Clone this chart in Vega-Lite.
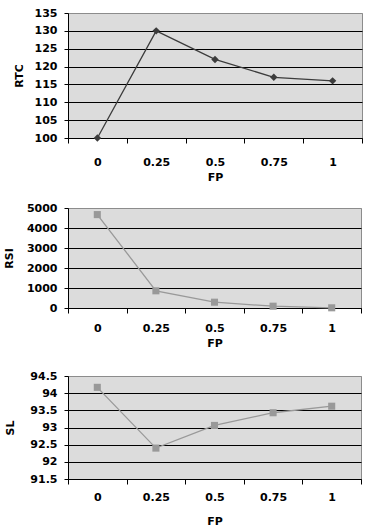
{
  "$schema": "https://vega.github.io/schema/vega-lite/v6.json",
  "padding": {"left": 2, "top": 6, "right": 7, "bottom": 2},
  "background": "white",
  "data": {"values": [
    {"FP": "0", "RTC": 100, "RSI": 4670, "SL": 94.17},
    {"FP": "0.25", "RTC": 130, "RSI": 860, "SL": 92.4},
    {"FP": "0.5", "RTC": 122, "RSI": 290, "SL": 93.06},
    {"FP": "0.75", "RTC": 117, "RSI": 90, "SL": 93.43},
    {"FP": "1", "RTC": 116, "RSI": 10, "SL": 93.62}
  ]},
  "config": {
    "font": "DejaVu Sans",
    "view": {"fill": "#dcdcdc", "stroke": "#8c8c8c", "strokeWidth": 1},
    "axis": {
      "labelFont": "DejaVu Sans", "labelFontWeight": "bold", "labelFontSize": 11, "labelColor": "black",
      "titleFont": "DejaVu Sans", "titleFontWeight": "bold", "titleFontSize": 11, "titleColor": "black",
      "domainColor": "black", "tickColor": "black", "gridOpacity": 1, "gridWidth": 1
    },
    "concat": {"spacing": 18}
  },
  "vconcat": [
    {
      "width": 294, "height": 125,
      "encoding": {
        "x": {"field": "FP", "type": "ordinal", "sort": null, "bandPosition": 0.5,
          "scale": {"type": "band", "paddingInner": 0, "paddingOuter": 0},
          "axis": {"labelAngle": 0, "tickBand": "extent", "grid": false, "tickSize": 5, "labelPadding": 13, "title": "FP", "titlePadding": 4}},
        "y": {"field": "RTC", "type": "quantitative",
          "scale": {"domain": [100, 135], "nice": false, "zero": false},
          "axis": {"values": [100, 105, 110, 115, 120, 125, 130, 135], "format": "d", "grid": true,
            "gridColor": {"condition": {"test": "datum.index === 1", "value": "#8c8c8c"}, "value": "black"},
            "tickSize": 4, "labelPadding": 7, "title": "RTC", "titlePadding": 10}}
      },
      "layer": [
        {"mark": {"type": "line", "color": "#3c3c3c", "strokeWidth": 1.3}},
        {"mark": {"type": "point", "shape": "diamond", "filled": true, "color": "#3c3c3c", "size": 55, "opacity": 1}}
      ]
    },
    {
      "width": 293, "height": 100,
      "encoding": {
        "x": {"field": "FP", "type": "ordinal", "sort": null, "bandPosition": 0.5,
          "scale": {"type": "band", "paddingInner": 0, "paddingOuter": 0},
          "axis": {"labelAngle": 0, "tickBand": "extent", "grid": false, "tickSize": 5, "labelPadding": 9, "title": "FP", "titlePadding": 4}},
        "y": {"field": "RSI", "type": "quantitative",
          "scale": {"domain": [0, 5000], "nice": false},
          "axis": {"values": [0, 1000, 2000, 3000, 4000, 5000], "format": "d", "grid": true,
            "gridColor": {"condition": {"test": "datum.index === 1", "value": "#8c8c8c"}, "value": "black"},
            "tickSize": 4, "labelPadding": 7, "title": "RSI", "titlePadding": 12}}
      },
      "layer": [
        {"mark": {"type": "line", "color": "#999999", "strokeWidth": 1.3}},
        {"mark": {"type": "point", "shape": "square", "filled": true, "color": "#999999", "size": 50, "opacity": 1}}
      ]
    },
    {
      "width": 293, "height": 103,
      "title": {"text": " ", "fontSize": 2, "offset": 0},
      "encoding": {
        "x": {"field": "FP", "type": "ordinal", "sort": null, "bandPosition": 0.5,
          "scale": {"type": "band", "paddingInner": 0, "paddingOuter": 0},
          "axis": {"labelAngle": 0, "tickBand": "extent", "grid": false, "tickSize": 5, "labelPadding": 7, "title": "FP", "titlePadding": 13}},
        "y": {"field": "SL", "type": "quantitative",
          "scale": {"domain": [91.5, 94.5], "nice": false, "zero": false},
          "axis": {"values": [91.5, 92, 92.5, 93, 93.5, 94, 94.5], "format": "~g", "grid": true,
            "gridColor": {"condition": {"test": "datum.index === 1", "value": "#8c8c8c"}, "value": "black"},
            "tickSize": 4, "labelPadding": 7, "title": "SL", "titlePadding": 14}}
      },
      "layer": [
        {"mark": {"type": "line", "color": "#999999", "strokeWidth": 1.3}},
        {"mark": {"type": "point", "shape": "square", "filled": true, "color": "#999999", "size": 50, "opacity": 1}}
      ]
    }
  ]
}
